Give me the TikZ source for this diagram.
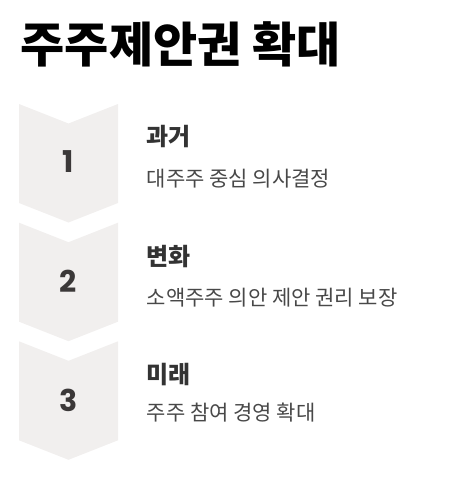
\documentclass[tikz,border=0pt]{standalone}
\usepackage{fontspec}
\newfontfamily\krfont{Noto Sans CJK KR}
\newfontfamily\numfont{Poppins}
\definecolor{chevfill}{HTML}{F1EFEE}
\definecolor{numgray}{HTML}{3B3838}
\definecolor{headgray}{HTML}{333333}
\definecolor{subgray}{HTML}{484848}

\begin{document}
\begin{tikzpicture}[x=1pt,y=-1pt,
  chevron/.style={fill=chevfill,draw=none},
  stepnum/.style={inner sep=0,font=\numfont\bfseries\fontsize{30}{30}\selectfont,text=numgray},
  heading/.style={anchor=west,inner sep=0,font=\krfont\bfseries\fontsize{24}{24}\selectfont,text=headgray},
  detail/.style={anchor=west,inner sep=0,font=\krfont\fontsize{21}{21}\selectfont,text=subgray}]
  \useasboundingbox (0,0) rectangle (460,486);
  \node[anchor=west,inner sep=0,font=\krfont\bfseries\fontsize{48}{48}\selectfont] (title) at (20.5,44.7) {주주제안권 확대};
  \foreach \t in {104,222.7,341.3}
    \fill[chevron] (19,\t) -- (68.5,\t+19.5) -- (118,\t) -- (118,\t+99) -- (68.5,\t+118.5) -- (19,\t+99) -- cycle;
  \node[stepnum] (n1) at (68.5,161.7) {1};
  \node[stepnum] (n2) at (68.5,281) {2};
  \node[stepnum] (n3) at (68.5,400.7) {3};
  \node[heading] (h1) at (146.5,137) {과거};
  \node[detail] (d1) at (146.5,179) {대주주 중심 의사결정};
  \node[heading] (h2) at (146.5,257) {변화};
  \node[detail] (d2) at (146.5,297.5) {소액주주 의안 제안 권리 보장};
  \node[heading] (h3) at (146.5,375) {미래};
  \node[detail] (d3) at (146.5,413) {주주 참여 경영 확대};
\end{tikzpicture}
\end{document}
